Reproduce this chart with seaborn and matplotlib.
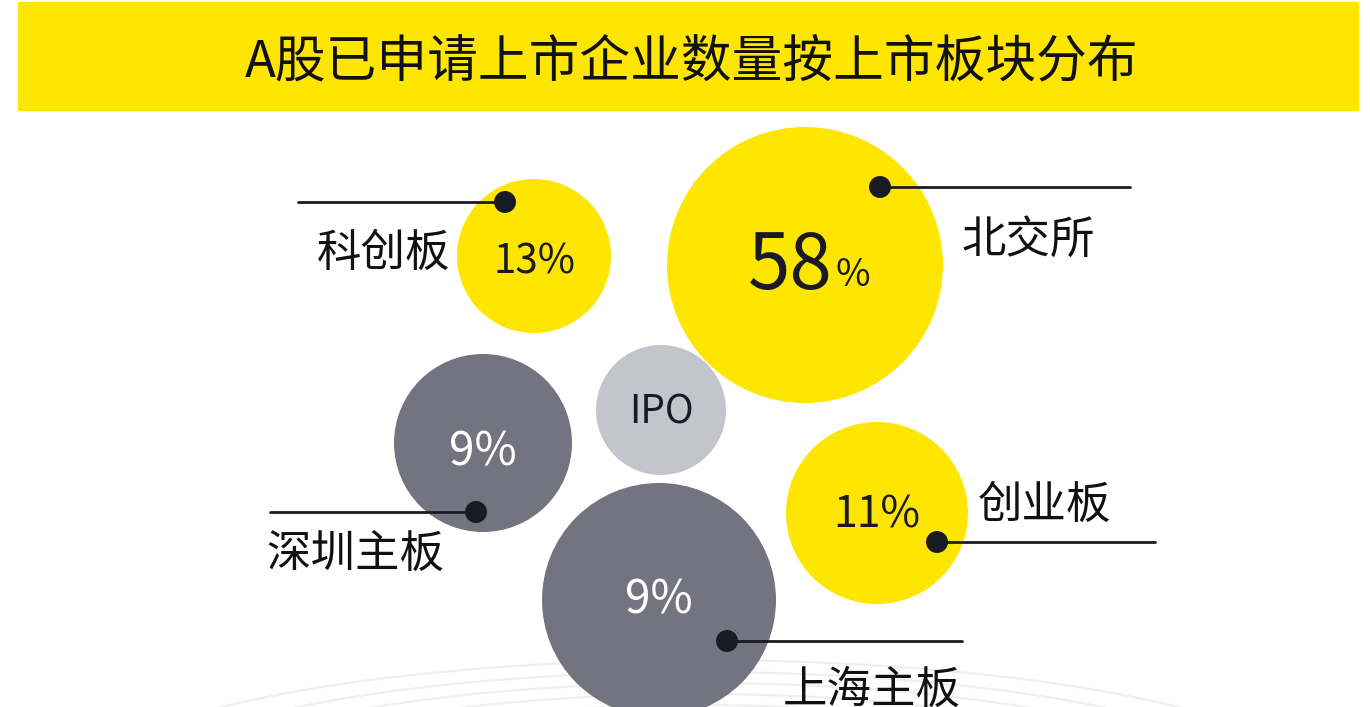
import matplotlib.pyplot as plt
import seaborn as sns
import pandas as pd
from matplotlib.patches import Circle, Ellipse, Rectangle

# data
boards = ["科创板", "北交所", "IPO", "深圳主板", "创业板", "上海主板"]
shares = ["13%", "58%", "", "9%", "11%", "9%"]

# layout (pixel space of a 1370x707 canvas)
bubble_x = [534, 805, 661, 483, 877, 659]
bubble_y = [256, 265, 410, 443, 513, 600]
bubble_r = [77, 138, 65, 89, 91, 117]
bubble_color = ["#FFE600", "#FFE600", "#C4C4CD", "#747480", "#FFE600", "#747480"]
text_color = ["#1A1A24", "#1A1A24", "#1A1A24", "white", "#1A1A24", "white"]

dot_x = [505, 880, None, 476, 937, 727]
dot_y = [202, 187, None, 512, 542, 641]
line_end = [298, 1130, None, 270, 1155, 962]
label_x = [384, 1028, None, 355, 1045, 872]
label_y = [253, 240, None, 555, 505, 690]

sns.set_theme(style="white")
plt.rcParams["font.family"] = ["Noto Sans CJK SC", "DejaVu Sans"]

fig = plt.figure(figsize=(13.7, 7.07), dpi=100)
ax = fig.add_axes([0, 0, 1, 1])
ax.set_xlim(0, 1370)
ax.set_ylim(707, 0)
ax.set_aspect("equal")
ax.axis("off")

# faint background arcs
for b in [140, 128, 117, 106, 95]:
    ax.add_patch(Ellipse((700, 800), 2 * b * 640 / 140, 2 * b, fill=False,
                         ec="#EFEFF1", lw=1.6, zorder=0))

# title banner
ax.add_patch(Rectangle((18, 2), 1340, 108, color="#FFE600", zorder=1))
ax.text(692, 62, "A股已申请上市企业数量按上市板块分布", ha="center", va="center",
        fontsize=36.5, color="#111111", zorder=2)

# bubbles
for i in range(len(boards)):
    ax.add_patch(Circle((bubble_x[i], bubble_y[i]), bubble_r[i],
                        color=bubble_color[i], lw=0, zorder=2))

# connector lines
for i in range(len(boards)):
    if dot_x[i] is None:
        continue
    ax.plot([dot_x[i], line_end[i]], [dot_y[i], dot_y[i]], color="#1A1A24", lw=2, zorder=3)

dots = pd.DataFrame({"x": [v for v in dot_x if v is not None],
                     "y": [v for v in dot_y if v is not None]})
sns.scatterplot(data=dots, x="x", y="y", ax=ax, s=250, color="#1A1A24",
                edgecolor="none", zorder=4, legend=False)

# percent labels
ax.text(535, 262, shares[0], ha="center", va="center", fontsize=29, color=text_color[0], zorder=5)
ax.text(833, 267, shares[1][:-1], ha="right", va="center", fontsize=55, color=text_color[1], zorder=5)
ax.text(836, 275, shares[1][-1], ha="left", va="center", fontsize=27, color=text_color[1], zorder=5)
ax.text(661, 412, boards[2], ha="center", va="center", fontsize=28, color=text_color[2], zorder=5)
ax.text(483, 452, shares[3], ha="center", va="center", fontsize=33, color=text_color[3], zorder=5)
ax.text(877, 516, shares[4], ha="center", va="center", fontsize=31, color=text_color[4], zorder=5)
ax.text(659, 600, shares[5], ha="center", va="center", fontsize=33, color=text_color[5], zorder=5)

# board names
for i in range(len(boards)):
    if label_x[i] is None:
        continue
    ax.text(label_x[i], label_y[i], boards[i], ha="center", va="center",
            fontsize=32, color="#111111", zorder=5)

fig.savefig("out.png", dpi=100)
plt.close()
